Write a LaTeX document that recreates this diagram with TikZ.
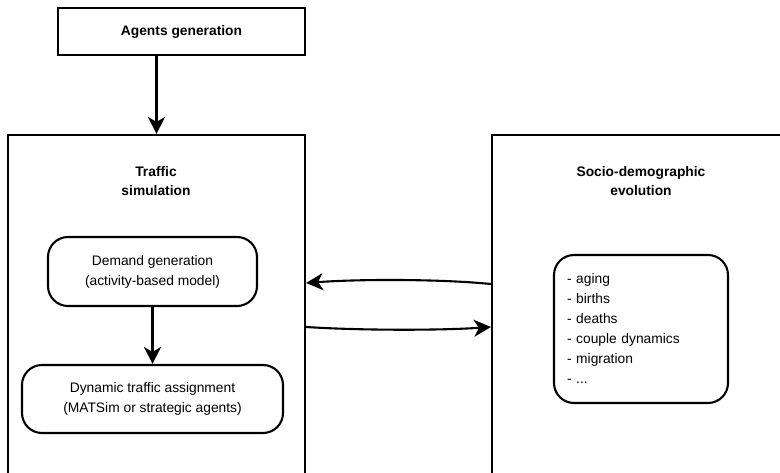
\documentclass[tikz,border=0pt]{standalone}
\usepackage{fontspec}
\setmainfont{Liberation Sans}
\usetikzlibrary{arrows.meta}
\begin{document}
\begin{tikzpicture}[x=1pt,y=-1pt,
  box/.style={draw, line width=2.1pt, rectangle, inner sep=0pt},
  rbox/.style={draw, line width=2.1pt, rounded corners=20pt, inner sep=0pt, align=center},
  title/.style={align=center, font=\fontsize{13.8}{19}\selectfont\bfseries},
  arr/.style={line width=2.1pt, -{Stealth[length=17pt,width=17pt,inset=5pt]}},
  font=\fontsize{13.8}{20}\selectfont]
\useasboundingbox (0,0) rectangle (780,473);
\clip (0,0) rectangle (780,473);
\node[box, minimum width=247pt, minimum height=47pt, font=\fontsize{13.8}{19}\selectfont\bfseries] (agents) at (181.5,31.5) {Agents generation};
\node[box, minimum width=297pt, minimum height=385pt] (traffic) at (156.5,327.5) {};
\node[box, minimum width=308pt, minimum height=385pt] (socio) at (646,327.5) {};
\node[title] (ttitle) at (156,181.5) {Traffic\\simulation};
\node[title] (stitle) at (641,181.5) {Socio-demographic\\evolution};
\node[rbox, minimum width=209pt, minimum height=69pt] (demand) at (152.5,271.5) {Demand generation\\(activity-based model)};
\node[rbox, minimum width=261pt, minimum height=68pt] (dynamic) at (152.5,399) {Dynamic traffic assignment\\(MATSim or strategic agents)};
\node[rbox, align=left, inner xsep=13pt, text width=148pt, minimum height=148pt] (list) at (641,329) {- aging\\- births\\- deaths\\- couple dynamics\\- migration\\- ...\\[-2pt]};
\draw[arr] (agents.south -| traffic.north) -- (traffic.north);
\draw[arr] (demand) -- (dynamic);
\draw[arr] (socio.west |- 0,284) .. controls (440,279) and (360,279) .. (traffic.east |- 0,283);
\draw[arr] (traffic.east |- 0,327) .. controls (360,330.5) and (440,330.5) .. (socio.west |- 0,327);
\end{tikzpicture}
\end{document}
